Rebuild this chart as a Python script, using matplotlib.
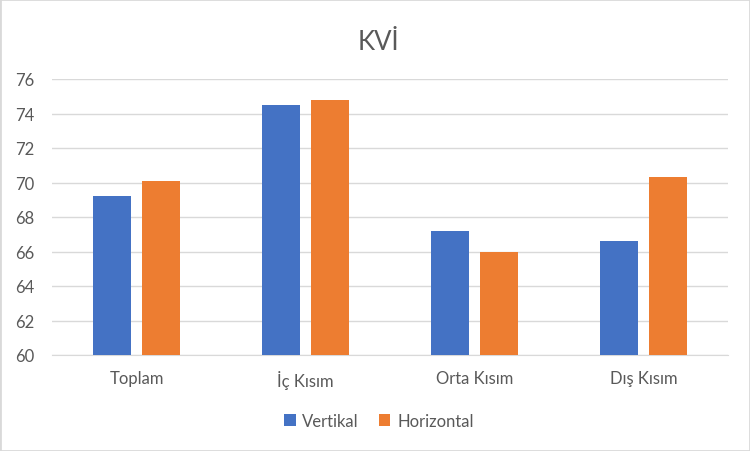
import matplotlib
matplotlib.use("Agg")
import matplotlib.pyplot as plt
import numpy as np
from matplotlib.patches import Rectangle

categories = ["Toplam", "İç Kısım", "Orta Kısım", "Dış Kısım"]
vertikal = [69.2, 74.5, 67.2, 66.6]
horizontal = [70.1, 74.8, 66.0, 70.3]
series_names = ["Vertikal", "Horizontal"]
title = "KVİ"

plt.rcParams['font.family'] = ['Lato', 'DejaVu Sans']
fig = plt.figure(figsize=(7.5, 4.52), dpi=100)
ax = fig.add_axes([52/750, 1-356/452, 676/750, 276/452])

x = np.arange(len(categories))
w = 0.223
off = 0.145
ax.bar(x - off, vertikal, w, color="#4472C4", label=series_names[0], zorder=3)
ax.bar(x + off, horizontal, w, color="#ED7D31", label=series_names[1], zorder=3)

ax.set_xlim(-0.5, len(categories) - 0.5)
ax.set_ylim(60, 76)
ax.set_yticks(np.arange(60, 77, 2))
ax.set_xticks(x)
ax.set_xticklabels(categories)
ax.grid(axis='y', color="#d9d9d9", linewidth=1, zorder=0)
for s in ["top", "right", "left"]:
    ax.spines[s].set_visible(False)
ax.spines["bottom"].set_color("#d9d9d9")
ax.tick_params(axis='both', length=0, colors="#595959", labelsize=12)
ax.tick_params(axis='x', pad=11)
ax.tick_params(axis='y', pad=13)

fig.text(0.505, 1-42/452, title, ha='center', va='center', fontsize=18.5, color="#595959")

leg = fig.legend(loc='center', bbox_to_anchor=(0.505, 1-422/452), ncol=2, frameon=False,
                 fontsize=12, handlelength=0.7, handleheight=0.7, handletextpad=0.4,
                 columnspacing=1.2)
for t in leg.get_texts():
    t.set_color("#595959")

fig.patches.append(Rectangle((0, 0), 1, 1, transform=fig.transFigure, fill=False,
                             edgecolor="#d9d9d9", linewidth=2))
fig.savefig("out.png", dpi=100, facecolor="white")
